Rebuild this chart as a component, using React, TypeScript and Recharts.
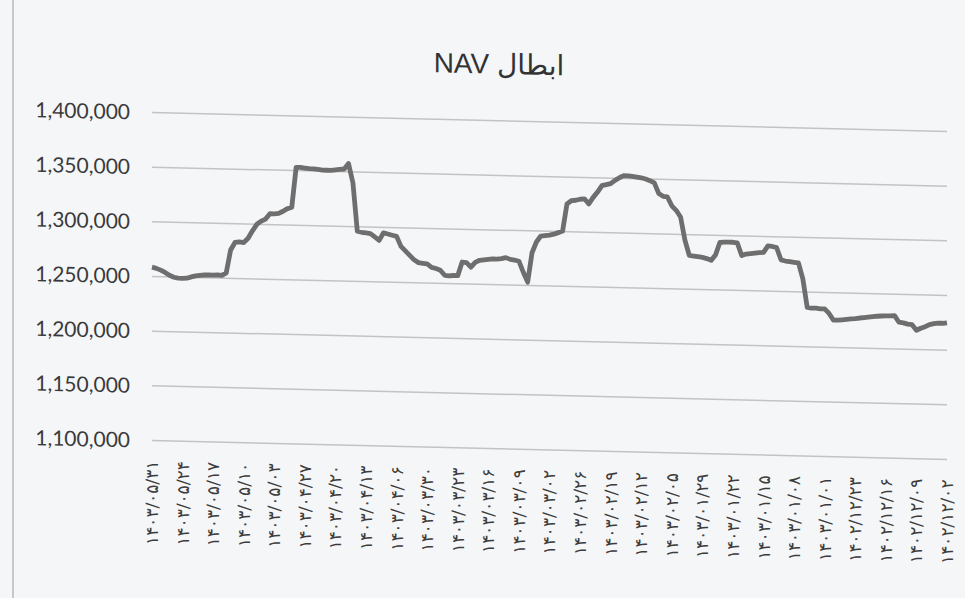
import React from 'react';
import { LineChart, Line, XAxis, YAxis, CartesianGrid } from 'recharts';

const chartTitle = 'ابطال NAV';

const tickLabels = [
  '۱۴۰۳/۰۵/۳۱', '۱۴۰۳/۰۵/۲۴', '۱۴۰۳/۰۵/۱۷', '۱۴۰۳/۰۵/۱۰', '۱۴۰۳/۰۵/۰۳',
  '۱۴۰۳/۰۴/۲۷', '۱۴۰۳/۰۴/۲۰', '۱۴۰۳/۰۴/۱۳', '۱۴۰۳/۰۴/۰۶', '۱۴۰۳/۰۳/۳۰',
  '۱۴۰۳/۰۳/۲۳', '۱۴۰۳/۰۳/۱۶', '۱۴۰۳/۰۳/۰۹', '۱۴۰۳/۰۳/۰۲', '۱۴۰۳/۰۲/۲۶',
  '۱۴۰۳/۰۲/۱۹', '۱۴۰۳/۰۲/۱۲', '۱۴۰۳/۰۲/۰۵', '۱۴۰۳/۰۱/۲۹', '۱۴۰۳/۰۱/۲۲',
  '۱۴۰۳/۰۱/۱۵', '۱۴۰۳/۰۱/۰۸', '۱۴۰۳/۰۱/۰۱', '۱۴۰۲/۱۲/۲۳', '۱۴۰۲/۱۲/۱۶',
  '۱۴۰۲/۱۲/۰۹', '۱۴۰۲/۱۲/۰۲',
];

// daily NAV values, one week per row (left to right as drawn)
const navValues = [
  1258500, 1257500, 1256000, 1254000, 1251500, 1249800, 1249000,
  1249000, 1249200, 1250500, 1251500, 1252000, 1252500, 1252700,
  1252500, 1252800, 1252600, 1255000, 1276000, 1283000, 1283500,
  1283000, 1287000, 1294000, 1300000, 1303000, 1305000, 1310000,
  1310000, 1310500, 1312500, 1315000, 1316500, 1353000, 1353000,
  1352500, 1352000, 1352000, 1351500, 1351000, 1351000, 1351000,
  1351500, 1352000, 1352500, 1357500, 1340000, 1296000, 1295000,
  1294500, 1294000, 1291000, 1288000, 1295000, 1294000, 1293000,
  1292000, 1283000, 1279000, 1275000, 1271000, 1268500, 1268000,
  1267500, 1264500, 1263500, 1262000, 1257500, 1257000, 1257500,
  1257500, 1270000, 1269500, 1265500, 1270000, 1272000, 1272500,
  1273000, 1273500, 1273500, 1274000, 1275000, 1273500, 1273000,
  1272000, 1262000, 1253000, 1280000, 1290000, 1295500, 1296000,
  1296500, 1297500, 1299000, 1300500, 1325500, 1328500, 1329000,
  1330000, 1330500, 1326000, 1332000, 1337000, 1343000, 1344000,
  1345000, 1348000, 1350500, 1352500, 1352500, 1352000, 1351500,
  1351000, 1350000, 1348500, 1346500, 1337000, 1334500, 1334000,
  1326000, 1322000, 1316000, 1295000, 1281000, 1280500, 1280000,
  1279500, 1278500, 1277000, 1282000, 1293500, 1294000, 1294000,
  1294000, 1293500, 1282000, 1283500, 1284000, 1284500, 1285000,
  1285500, 1291500, 1291000, 1290000, 1279000, 1278000, 1277500,
  1277000, 1276500, 1262000, 1236000, 1235500, 1235500, 1235000,
  1235000, 1231000, 1225000, 1225000, 1225500, 1226000, 1226500,
  1226800, 1227500, 1228000, 1228500, 1229000, 1229500, 1229800,
  1230000, 1230200, 1230400, 1224500, 1224000, 1223000, 1222500,
  1217500, 1219500, 1221000, 1223000, 1224000, 1224500, 1224500,
  1225000,
];

const yTicks = [1100000, 1150000, 1200000, 1250000, 1300000, 1350000, 1400000];
const daysPerLabel = 7;

const data = navValues.map((v, i) => ({ i, nav: v }));
const xTicks = tickLabels.map((_, k) => k * daysPerLabel);

const XTick = (props: any) => {
  const { x, y, payload } = props;
  const label = tickLabels[Math.round(payload.value / daysPerLabel)];
  return (
    <text
      x={x}
      y={y}
      transform={`rotate(-90, ${x}, ${y})`}
      textAnchor="end"
      dominantBaseline="central"
      fontSize={17}
      letterSpacing={1.2}
      fill="#3c3c3c"
      fontFamily="'DejaVu Sans', sans-serif"
    >
      {label}
    </text>
  );
};

export default function App() {
  return (
    <div
      style={{
        position: 'absolute',
        left: 0,
        top: 0,
        width: 965,
        height: 598,
        background: '#f5f6f8',
        overflow: 'hidden',
      }}
    >
      <div
        style={{
          position: 'absolute',
          left: 0,
          top: 0,
          width: 965,
          height: 598,
          transform: 'skewY(1.37deg)',
          transformOrigin: '550px 290px',
        }}
      >
        <div
          style={{
            position: 'absolute',
            left: 12,
            top: 0,
            width: 1.5,
            height: 620,
            background: '#c6c8cc',
          }}
        />
        <div
          dir="rtl"
          style={{
            position: 'absolute',
            left: 0,
            top: 52,
            width: 998,
            textAlign: 'center',
            fontSize: 28,
            lineHeight: '28px',
            fontFamily: "'Liberation Sans', 'DejaVu Sans', sans-serif",
            color: '#333',
          }}
        >
          {chartTitle}
        </div>
        <LineChart
          width={965}
          height={598}
          data={data}
          margin={{ top: 122, right: 18, bottom: 28, left: 0 }}
        >
          <CartesianGrid vertical={false} stroke="#c2c3c6" strokeWidth={1.5} />
          <XAxis
            dataKey="i"
            type="number"
            domain={[0, navValues.length - 1]}
            ticks={xTicks}
            interval={0}
            height={120}
            axisLine={false}
            tickLine={false}
            tickSize={0}
            tickMargin={20}
            tick={<XTick />}
          />
          <YAxis
            domain={[1100000, 1400000]}
            ticks={yTicks}
            width={152}
            axisLine={false}
            tickLine={false}
            tickSize={0}
            tickMargin={22}
            tick={{ fontSize: 21, fill: '#3a3a3a', fontFamily: 'Lato, sans-serif' }}
            tickFormatter={(v: number) => v.toLocaleString('en-US')}
          />
          <Line
            dataKey="nav"
            type="linear"
            stroke="#6e6e6e"
            strokeWidth={4.8}
            strokeLinejoin="round"
            dot={false}
            isAnimationActive={false}
          />
        </LineChart>
      </div>
    </div>
  );
}
